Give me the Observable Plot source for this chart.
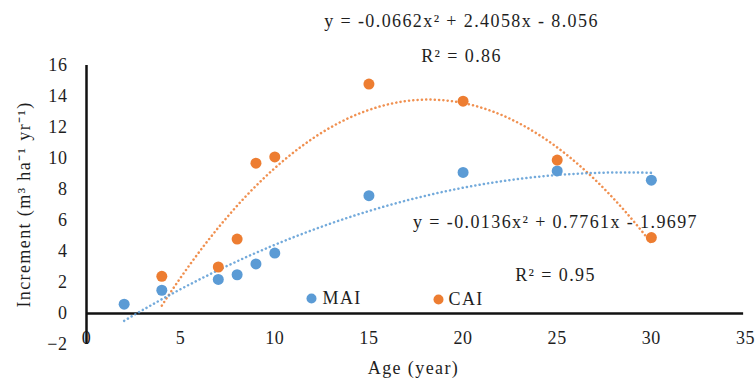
<!DOCTYPE html>
<html>
<head>
<meta charset="utf-8">
<script src="https://cdn.jsdelivr.net/npm/d3@7"></script>
<script src="https://cdn.jsdelivr.net/npm/@observablehq/plot@0.6"></script>
<style>
  html, body { margin: 0; padding: 0; background: #fff; }
  #chart { width: 756px; height: 383px; }
  #chart svg text { letter-spacing: 1.4px; }
  #chart svg g[aria-label="x-axis tick label"] text,
  #chart svg g[aria-label="y-axis tick label"] text { letter-spacing: 0.6px; }
</style>
</head>
<body>
<div id="chart"></div>
<script>
// Stand age (years) and volume increments (m³ ha⁻¹ yr⁻¹)
const maiAges = [2, 4, 7, 8, 9, 10, 15, 20, 25, 30];
const maiValues = [0.6, 1.5, 2.2, 2.5, 3.2, 3.9, 7.6, 9.1, 9.2, 8.6];
const caiAges = [4, 7, 8, 9, 10, 15, 20, 25, 30];
const caiValues = [2.4, 3.0, 4.8, 9.7, 10.1, 14.8, 13.7, 9.9, 4.9];

// Second-order polynomial trendlines [a, b, c] for y = a·x² + b·x + c
const maiFit = [-0.0136, 0.7761, -1.9697];
const caiFit = [-0.0662, 2.4058, -8.056];
const maiR2 = 0.95;
const caiR2 = 0.86;

// Axis ticks
const xTicks = [0, 5, 10, 15, 20, 25, 30, 35];
const yTicks = [-2, 0, 2, 4, 6, 8, 10, 12, 14, 16];

const BLUE = "#5b9bd5";
const ORANGE = "#ed7d31";
const INK = "#1e1e1e";
const FS = 18;
const FONT = "'Liberation Serif', 'Times New Roman', serif";

const maiPts = maiAges.map((a, i) => ({age: a, v: maiValues[i]}));
const caiPts = caiAges.map((a, i) => ({age: a, v: caiValues[i]}));

// Evaluate a trendline across the span of its series
function curve(fit, ages) {
  const [a, b, c] = fit;
  const lo = d3.min(ages), hi = d3.max(ages);
  return d3.range(lo, hi + 1e-9, 0.25).map(x => ({age: x, v: a * x * x + b * x + c}));
}
const fmtEq = ([a, b, c]) =>
  `y = ${a}x² + ${b}x ${c < 0 ? "- " + Math.abs(c) : "+ " + c}`;

// Free-standing label placed relative to the frame's top-left corner
const label = (s, dx, dy, extra = {}) =>
  Plot.text([s], {frameAnchor: "top-left", dx, dy, text: d => d, textAnchor: "middle",
    lineAnchor: "middle", fontSize: FS, fill: INK, ...extra});

const chart = Plot.plot({
  width: 756,
  height: 383,
  marginLeft: 86,
  marginRight: 11,
  marginTop: 65,
  marginBottom: 39,
  style: {fontFamily: FONT, fontSize: FS + "px", color: INK, background: "#fff"},
  x: {domain: [0, 35]},
  y: {domain: [-2, 16]},
  marks: [
    Plot.axisY({ticks: yTicks, tickSize: 0, tickPadding: 19, label: null, fontSize: FS}),
    Plot.axisX({ticks: xTicks, tickSize: 0, tickPadding: 0, dy: -13, label: null, fontSize: FS}),
    Plot.ruleX([0], {y1: -2, y2: 16, stroke: "#111", strokeWidth: 2.5}),
    Plot.ruleY([0], {x1: 0, x2: 34.9, stroke: "#111", strokeWidth: 2.5}),
    // trendlines
    Plot.line(curve(caiFit, caiAges), {x: "age", y: "v", stroke: ORANGE, strokeWidth: 2.5,
      strokeDasharray: "0.1 4.2", strokeLinecap: "round", strokeOpacity: 0.85}),
    Plot.line(curve(maiFit, maiAges), {x: "age", y: "v", stroke: BLUE, strokeWidth: 2.5,
      strokeDasharray: "0.1 4.2", strokeLinecap: "round", strokeOpacity: 0.85}),
    // observations
    Plot.dot(maiPts, {x: "age", y: "v", r: 5.5, fill: BLUE}),
    Plot.dot(caiPts, {x: "age", y: "v", r: 5.5, fill: ORANGE}),
    // trendline equations
    label(fmtEq(caiFit), 375, -44),
    label(`R² = ${caiR2}`, 375, -9),
    label(fmtEq(maiFit), 469, 157),
    label(`R² = ${maiR2}`, 469, 210),
    // legend
    Plot.dot(["MAI"], {frameAnchor: "top-left", dx: 225, dy: 233, r: 5, fill: BLUE}),
    label("MAI", 236, 233, {textAnchor: "start"}),
    Plot.dot(["CAI"], {frameAnchor: "top-left", dx: 352, dy: 234, r: 5, fill: ORANGE}),
    label("CAI", 362, 234, {textAnchor: "start"}),
    // axis titles
    label("Age (year)", 327, 303),
    label("Increment (m³ ha⁻¹ yr⁻¹)", -62, 139, {rotate: -90})
  ]
});

document.getElementById("chart").appendChild(chart);
</script>
</body>
</html>
